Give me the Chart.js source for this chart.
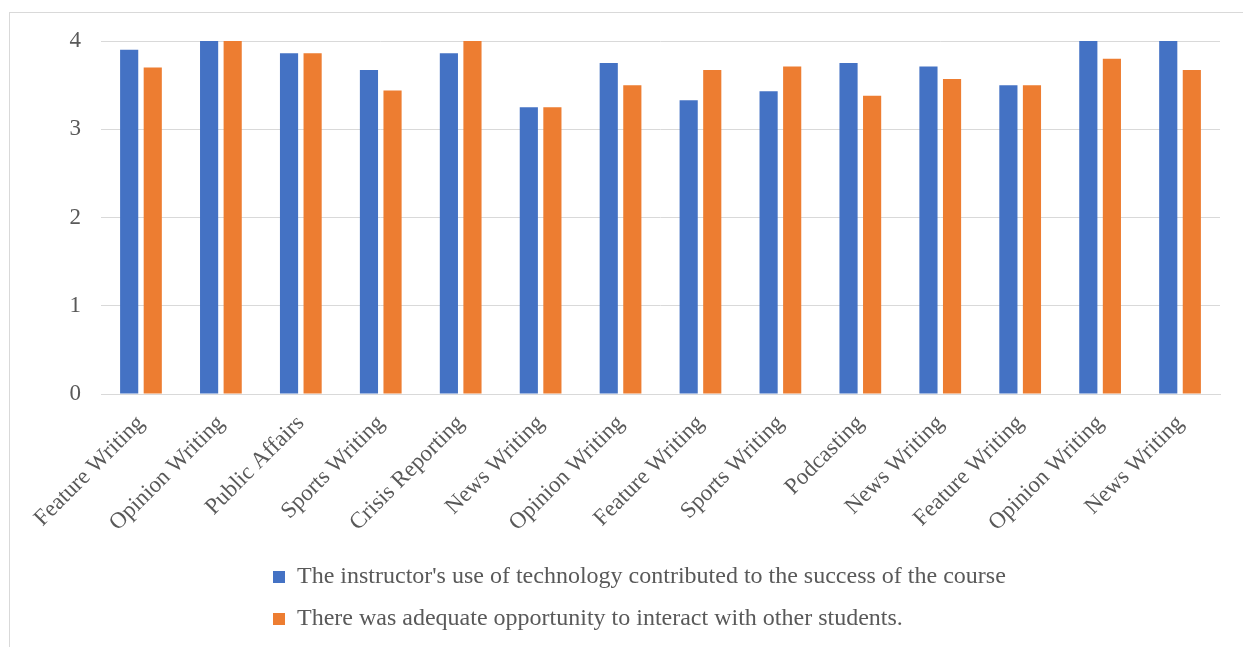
<!DOCTYPE html>
<html>
<head>
<meta charset="utf-8">
<script src="https://cdn.jsdelivr.net/npm/chart.js@4/dist/chart.umd.min.js"></script>
<style>
    html, body { margin: 0; padding: 0; background: #fff; }
    #wrap { position: relative; width: 1243px; height: 647px; }
    #frame {
        position: absolute; left: 9px; top: 12px; right: 0; bottom: 0;
        border-left: 1px solid #d9d9d9; border-top: 1px solid #d9d9d9;
    }
    canvas { position: absolute; left: 0; top: 0; }
</style>
</head>
<body>
<div id="wrap">
    <div id="frame"></div>
    <canvas id="chart" width="1243" height="647"></canvas>
</div>
<script>
// courses
const courses = [
    'Feature Writing', 'Opinion Writing', 'Public Affairs', 'Sports Writing',
    'Crisis Reporting', 'News Writing', 'Opinion Writing', 'Feature Writing',
    'Sports Writing', 'Podcasting', 'News Writing', 'Feature Writing',
    'Opinion Writing', 'News Writing'
];

// series
const technologyLabel = "The instructor's use of technology contributed to the success of the course";
const technologyScores = [3.90, 4.00, 3.86, 3.67, 3.86, 3.25, 3.75, 3.33, 3.43, 3.75, 3.71, 3.50, 4.00, 4.00];

const interactionLabel = 'There was adequate opportunity to interact with other students.';
const interactionScores = [3.70, 4.00, 3.86, 3.44, 4.00, 3.25, 3.50, 3.67, 3.71, 3.38, 3.57, 3.50, 3.80, 3.67];

const yTicks = [0, 1, 2, 3, 4];

const FONT = '"Liberation Serif", "Times New Roman", serif';
const TEXT = '#595959';
const GRID = '#d9d9d9';

// legend rows start at the left, not centred per row
const legendPlacer = {
    id: 'legendPlacer',
    beforeDraw(chart) {
        if (chart.legend) {
            chart.legend.left = 255;
            chart.legend.top = 547;
        }
    }
};

new Chart(document.getElementById('chart'), {
    type: 'bar',
    data: {
        labels: courses,
        datasets: [
            {
                label: technologyLabel,
                data: technologyScores,
                backgroundColor: '#4472C4',
                borderWidth: 0
            },
            {
                label: interactionLabel,
                data: interactionScores,
                backgroundColor: '#ED7D31',
                borderWidth: 0
            }
        ]
    },
    options: {
        responsive: false,
        animation: false,
        layout: { padding: { top: 41, right: 23, left: 0, bottom: 0 } },
        datasets: {
            bar: { categoryPercentage: 0.59, barPercentage: 0.77 }
        },
        plugins: {
            legend: {
                position: 'bottom',
                align: 'start',
                labels: {
                    boxWidth: 12,
                    boxHeight: 12,
                    padding: 18,
                    color: TEXT,
                    font: { family: FONT, size: 24 }
                }
            },
            tooltip: { enabled: false }
        },
        scales: {
            x: {
                grid: { display: false },
                border: { color: GRID, width: 1 },
                ticks: {
                    autoSkip: false,
                    minRotation: 45,
                    maxRotation: 45,
                    padding: 8,
                    color: TEXT,
                    font: { family: FONT, size: 23 }
                },
                afterFit(scale) { scale.height = 159; }
            },
            y: {
                min: 0,
                max: 4,
                afterBuildTicks(scale) { scale.ticks = yTicks.map(v => ({ value: v })); },
                grid: { color: GRID, lineWidth: 1, drawTicks: false },
                border: { display: false },
                ticks: {
                    padding: 20,
                    color: TEXT,
                    font: { family: FONT, size: 23 }
                },
                afterFit(scale) { scale.width = 101; }
            }
        }
    },
    plugins: [legendPlacer]
});
</script>
</body>
</html>
